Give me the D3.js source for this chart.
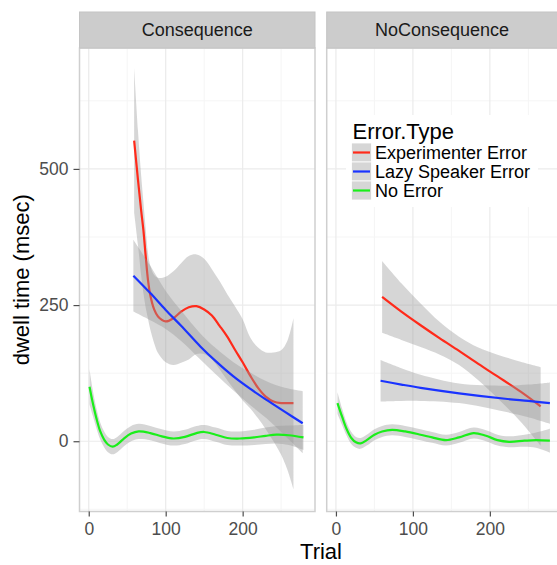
<!DOCTYPE html>
<html>
<head>
<meta charset="utf-8">
<script src="https://cdn.jsdelivr.net/npm/d3@7"></script>
<style>
  body { margin: 0; background: #fff; }
  text { font-family: "Liberation Sans", Arial, sans-serif; }
</style>
</head>
<body>
<div id="chart"></div>
<script>
// facets and series
const facets = ["Consequence", "NoConsequence"];
const errorTypes = ["Experimenter Error", "Lazy Speaker Error", "No Error"];
const xTicks = [0, 100, 200];
const yTicks = [0, 250, 500];

// rows: [trial, fit, lower, upper]
const conExperimenter = [
  [59, 552, 420, 686], [64, 480, 360, 570], [68, 425, 305, 490], [71, 388, 272, 440],
  [74, 340, 245, 390], [77, 296, 225, 345], [80, 268, 205, 322], [85, 242, 180, 305],
  [90, 229, 162, 300], [100, 220, 145, 302], [110, 226, 140, 312], [120, 238, 144, 327],
  [130, 246, 150, 340], [140, 248, 160, 343], [150, 242, 160, 335], [160, 231, 150, 316],
  [170, 212, 132, 294], [180, 192, 112, 270], [190, 168, 93, 248], [200, 145, 75, 224],
  [210, 120, 60, 190], [220, 98, 42, 172], [230, 82, 22, 163], [240, 73, 0, 163],
  [250, 70, -25, 167], [258, 70, -52, 184], [266, 70, -88, 226]
];
const conLazy = [
  [58, 304, 238, 370], [80, 272, 222, 322], [100, 241, 206, 276], [120, 212, 184, 240],
  [145, 174, 150, 198], [165, 147, 123, 171], [188, 119, 93, 145], [210, 96, 66, 126],
  [231, 76, 42, 110], [255, 54, 10, 98], [278, 33, -22, 92]
];
const conNoError = [
  [1, 100, 68, 132], [5, 72, 48, 96], [10, 42, 24, 60], [15, 18, 3, 34], [20, 3, -11, 18],
  [25, -6, -20, 8], [31, -10, -24, 4], [37, -6, -20, 8], [45, 4, -10, 18], [55, 14, 0, 28],
  [65, 18, 4, 32], [80, 15, 2, 28], [95, 9, -4, 22], [110, 5, -8, 18], [125, 8, -5, 21],
  [140, 15, 2, 28], [150, 17, 4, 30], [165, 12, -1, 25], [180, 6, -7, 19], [196, 5, -8, 18],
  [215, 7, -7, 21], [230, 10, -5, 25], [244, 12, -4, 28], [260, 11, -7, 29], [279, 7, -16, 30]
];
const noConExperimenter = [
  [60, 265, 199, 331], [85, 238, 186, 290], [110, 213, 173, 253], [135, 189, 159, 219],
  [160, 166, 140, 192], [185, 142, 112, 172], [210, 119, 79, 159], [240, 91, 36, 146],
  [266, 64, -8, 136]
];
const noConLazy = [
  [58, 111, 73, 149], [85, 104, 74, 134], [110, 98, 74, 122], [160, 88, 70, 106],
  [220, 78, 54, 102], [250, 74, 44, 104], [278, 70, 32, 108]
];
const noConNoError = [
  [2, 70, 50, 90], [8, 45, 30, 60], [14, 22, 10, 34], [20, 6, -5, 17], [26, -2, -12, 8],
  [32, -4, -14, 6], [40, 2, -8, 12], [50, 12, 2, 22], [60, 18, 8, 28], [73, 21, 11, 31],
  [90, 18, 8, 28], [110, 12, 2, 22], [125, 7, -3, 17], [143, 2, -8, 12], [160, 7, -3, 17],
  [179, 15, 5, 25], [195, 10, 0, 20], [210, 2, -8, 12], [225, -1, -11, 9], [245, 1, -10, 12],
  [260, 2, -12, 16], [278, 1, -21, 23]
];

const panelData = {
  "Consequence": [conExperimenter, conLazy, conNoError],
  "NoConsequence": [noConExperimenter, noConLazy, noConNoError]
};

const colors = d3.scaleOrdinal()
  .domain(errorTypes)
  .range(["#ff2a1a", "#1a33ff", "#1aee1a"]);

const svgWidth = 557, svgHeight = 565;
const panelTop = 48, panelBottom = 511.5, stripTop = 12;
const panelLefts = [79.5, 326.7];
const panelWidth = 235.5;

const svg = d3.select("#chart").append("svg")
  .attr("width", svgWidth)
  .attr("height", svgHeight);

const y = d3.scaleLinear().domain([-129, 722]).range([panelBottom, panelTop]);

facets.forEach((facet, fi) => {
  const left = panelLefts[fi];
  const x = d3.scaleLinear().domain([-12, 294]).range([left, left + panelWidth]);

  const g = svg.append("g");

  // clip for panel
  g.append("clipPath").attr("id", "clip" + fi)
    .append("rect")
    .attr("x", left).attr("y", panelTop)
    .attr("width", panelWidth).attr("height", panelBottom - panelTop);

  // minor grid
  [50, 150, 250].forEach(v => {
    g.append("line").attr("x1", x(v)).attr("x2", x(v))
      .attr("y1", panelTop).attr("y2", panelBottom)
      .attr("stroke", "#f5f5f5").attr("stroke-width", 1);
  });
  [-125, 125, 375, 625].forEach(v => {
    g.append("line").attr("x1", left).attr("x2", left + panelWidth)
      .attr("y1", y(v)).attr("y2", y(v))
      .attr("stroke", "#f5f5f5").attr("stroke-width", 1);
  });
  // major grid
  xTicks.forEach(v => {
    g.append("line").attr("x1", x(v)).attr("x2", x(v))
      .attr("y1", panelTop).attr("y2", panelBottom)
      .attr("stroke", "#ebebeb").attr("stroke-width", 1.2);
  });
  yTicks.forEach(v => {
    g.append("line").attr("x1", left).attr("x2", left + panelWidth)
      .attr("y1", y(v)).attr("y2", y(v))
      .attr("stroke", "#ebebeb").attr("stroke-width", 1.2);
  });

  const plot = g.append("g").attr("clip-path", "url(#clip" + fi + ")");

  const area = d3.area()
    .x(d => x(d[0]))
    .y0(d => y(d[2]))
    .y1(d => y(d[3]))
    .curve(d3.curveCatmullRom);

  const line = d3.line()
    .x(d => x(d[0]))
    .y(d => y(d[1]))
    .curve(d3.curveCatmullRom);

  // ribbon then line, group by group (like geom_smooth)
  panelData[facet].forEach((rows, si) => {
    plot.append("path")
      .attr("d", area(rows))
      .attr("fill", "#999999")
      .attr("fill-opacity", 0.4);
    plot.append("path")
      .attr("d", line(rows))
      .attr("fill", "none")
      .attr("stroke", colors(errorTypes[si]))
      .attr("stroke-width", 2.2);
  });

  // panel border
  g.append("rect")
    .attr("x", left).attr("y", panelTop)
    .attr("width", panelWidth).attr("height", panelBottom - panelTop)
    .attr("fill", "none")
    .attr("stroke", "#cfcfcf")
    .attr("stroke-width", 1.5);

  // strip
  g.append("rect")
    .attr("x", left).attr("y", stripTop)
    .attr("width", panelWidth).attr("height", panelTop - stripTop)
    .attr("fill", "#cccccc")
    .attr("stroke", "#c4c4c4")
    .attr("stroke-width", 1);
  g.append("text")
    .attr("x", left + panelWidth / 2 - (fi === 1 ? 2.5 : 0))
    .attr("y", 36)
    .attr("text-anchor", "middle")
    .style("font-size", "18px")
    .style("fill", "#1a1a1a")
    .text(facet);

  // x axis
  const xAxis = g.append("g")
    .attr("transform", "translate(0," + panelBottom + ")")
    .call(d3.axisBottom(x).tickValues(xTicks).tickSize(5).tickPadding(6));
  xAxis.select(".domain").remove();
  xAxis.selectAll("line").attr("stroke", "#4d4d4d").attr("stroke-width", 1.2);
  xAxis.selectAll("text")
    .style("font-size", "17.5px")
    .style("fill", "#4d4d4d")
    .style("font-family", "Liberation Sans, Arial, sans-serif");
});

// y axis on left panel
const yAxis = svg.append("g")
  .attr("transform", "translate(" + panelLefts[0] + ",0)")
  .call(d3.axisLeft(y).tickValues(yTicks).tickSize(6).tickPadding(5));
yAxis.select(".domain").remove();
yAxis.selectAll("line").attr("stroke", "#4d4d4d").attr("stroke-width", 1.2);
yAxis.selectAll("text")
  .style("font-size", "17.5px")
  .style("fill", "#4d4d4d")
  .style("font-family", "Liberation Sans, Arial, sans-serif");

// axis titles
svg.append("text")
  .attr("x", 321)
  .attr("y", 559)
  .attr("text-anchor", "middle")
  .style("font-size", "22px")
  .style("fill", "#000")
  .text("Trial");

svg.append("text")
  .attr("transform", "translate(29," + (panelTop + panelBottom) / 2 + ") rotate(-90)")
  .attr("text-anchor", "middle")
  .style("font-size", "22px")
  .style("fill", "#000")
  .text("dwell time (msec)");

// legend inside right panel
const legend = svg.append("g").attr("transform", "translate(346,115)");
legend.append("rect")
  .attr("x", 0).attr("y", 0)
  .attr("width", 192).attr("height", 92)
  .attr("fill", "#fff");
legend.append("text")
  .attr("x", 6.5).attr("y", 24)
  .style("font-size", "22px")
  .style("fill", "#000")
  .text("Error.Type");

errorTypes.forEach((t, i) => {
  const ky = 28 + i * 19;
  legend.append("rect")
    .attr("x", 5.5).attr("y", ky)
    .attr("width", 20).attr("height", 19)
    .attr("fill", "#d6d6d6")
    .attr("stroke", "#ffffff")
    .attr("stroke-width", 0.8);
  legend.append("line")
    .attr("x1", 7).attr("x2", 24)
    .attr("y1", ky + 9.5).attr("y2", ky + 9.5)
    .attr("stroke", colors(t))
    .attr("stroke-width", 2.2);
  legend.append("text")
    .attr("x", 29).attr("y", ky + 16)
    .style("font-size", "18px")
    .style("fill", "#000")
    .text(t);
});
</script>
</body>
</html>
